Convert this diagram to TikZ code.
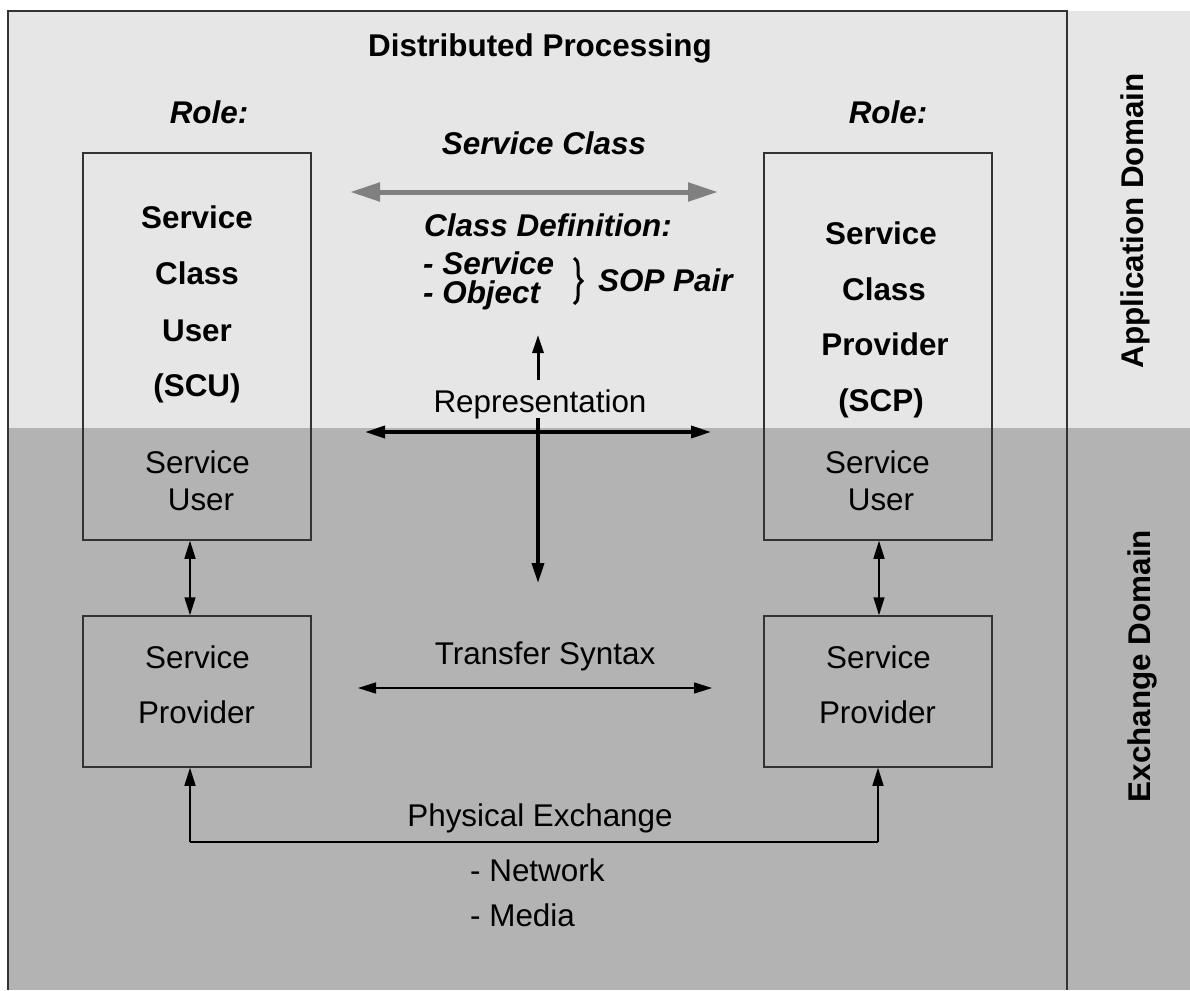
\documentclass[tikz,border=0pt]{standalone}
\usepackage{fontspec}
\setmainfont{Liberation Sans}
\usetikzlibrary{arrows.meta,decorations.pathreplacing}
\definecolor{lightbg}{HTML}{E6E6E6}
\definecolor{darkbg}{HTML}{B3B3B3}
\definecolor{framecol}{HTML}{333333}
\definecolor{arrowgray}{HTML}{808080}
\begin{document}
\begin{tikzpicture}[x=1pt,y=-1pt,
  font=\fontsize{31.4}{37}\selectfont,
  txt/.style={inner sep=0pt,text height=22.5pt,text depth=0pt},
  bold/.style={txt,font=\fontsize{31.4}{37}\selectfont\bfseries},
  bolditalic/.style={txt,font=\fontsize{31.4}{37}\selectfont\bfseries\itshape},
  box/.style={draw=framecol,line width=1.5pt,inner sep=0pt},
  thin/.style={line width=1.5pt,{Triangle[length=18pt,width=11pt]}-{Triangle[length=18pt,width=11pt]}},
  thick/.style={line width=3.5pt,{Triangle[length=20pt,width=12pt]}-{Triangle[length=20pt,width=12pt]}}
]
\useasboundingbox (0,0) rectangle (1190,990);
% backgrounds
\fill[lightbg] (8,11) rectangle (1190,427.5);
\fill[darkbg] (8,427.5) rectangle (1190,990);
\draw[framecol,line width=2pt] (8,990) -- (8,11) -- (1067,11) -- (1067,990);

% boxes
\node[box,minimum width=228pt,minimum height=387pt] (scu) at (197,346.5) {};
\node[box,minimum width=228pt,minimum height=387pt] (scp) at (878,346.5) {};
\node[box,minimum width=228pt,minimum height=151pt] (spl) at (197,691.5) {};
\node[box,minimum width=228pt,minimum height=151pt] (spr) at (878,691.5) {};

% texts
\node[bold] (title) at (540,45) {Distributed Processing};
\node[bolditalic] (roleL) at (209,112) {Role:};
\node[bolditalic] (roleR) at (888,112) {Role:};
\node[bolditalic] (svcclass) at (544,143) {Service Class};
\node[bolditalic] (classdef) at (548,225) {Class Definition:};
\node[bolditalic,anchor=west] (dsvc) at (423,263) {- Service};
\node[bolditalic,anchor=west] (dobj) at (423,292) {- Object};
\node[bolditalic,anchor=west] (sop) at (598,280) {SOP Pair};

\node[bold] (scu1) at (197,217) {Service};
\node[bold] (scu2) at (197,273) {Class};
\node[bold] (scu3) at (197,330) {User};
\node[bold] (scu4) at (197,385) {(SCU)};

\node[bold] (scp1) at (881,233) {Service};
\node[bold] (scp2) at (884,289) {Class};
\node[bold] (scp3) at (885,344) {Provider};
\node[bold] (scp4) at (881,400) {(SCP)};

\node[txt] (sul1) at (197.5,462) {Service};
\node[txt] (sul2) at (201,499) {User};
\node[txt] (sur1) at (877.5,462) {Service};
\node[txt] (sur2) at (881,499) {User};

\node[txt] (spl1) at (197.5,657) {Service};
\node[txt] (spl2) at (196.5,712) {Provider};
\node[txt] (spr1) at (878.5,657) {Service};
\node[txt] (spr2) at (877.5,712) {Provider};

\node[txt] (repr) at (540,401) {Representation};
\node[txt] (tsyn) at (545,653) {Transfer Syntax};
\node[txt] (phys) at (540,815) {Physical Exchange};
\node[txt,anchor=west] (net) at (470,870) {- Network};
\node[txt,anchor=west] (media) at (470,915) {- Media};

\node[bold,rotate=90] (appdom) at (1132,221) {Application Domain};
\node[bold,rotate=90] (exdom) at (1139,666) {Exchange Domain};

% brace
\draw[line width=3pt,decorate,decoration={brace,amplitude=8pt}] (574,258) -- (574,304);

% service class arrow
\coordinate (scA) at (350,192);
\coordinate (scB) at (718,192);
\draw[arrowgray,line width=5pt,{Triangle[length=30pt,width=18pt]}-{Triangle[length=30pt,width=18pt]}] (scA) -- (scB);

% representation arrows
\coordinate (repL) at (365,432);
\coordinate (repR) at (711,432);
\coordinate (repTop) at (538,418);
\coordinate (repBot) at (538,583);
\coordinate (upBot) at (538,380);
\coordinate (upTop) at (538,335);
\draw[thick] (repL) -- (repR);
\draw[line width=3.5pt,-{Triangle[length=20pt,width=12pt]}] (repTop) -- (repBot);
\draw[line width=3pt,-{Triangle[length=18pt,width=11pt]}] (upBot) -- (upTop);

% transfer syntax
\coordinate (tsL) at (358,688);
\coordinate (tsR) at (712,688);
\draw[thin] (tsL) -- (tsR);

% vertical arrows between boxes
\draw[thin] ([xshift=-7pt]scu.south) -- ([xshift=-7pt]spl.north);
\draw[thin] ([xshift=1pt]scp.south) -- ([xshift=1pt]spr.north);

% physical exchange
\coordinate (peL) at (190,842);
\coordinate (peR) at (878,842);
\draw[line width=1.5pt,-{Triangle[length=18pt,width=11pt]}] (peL) -- ([xshift=-7pt]spl.south);
\draw[line width=1.5pt,-{Triangle[length=18pt,width=11pt]}] (peR) -- (spr.south);
\draw[line width=1.5pt] (peL) -- (peR);
\end{tikzpicture}
\end{document}
